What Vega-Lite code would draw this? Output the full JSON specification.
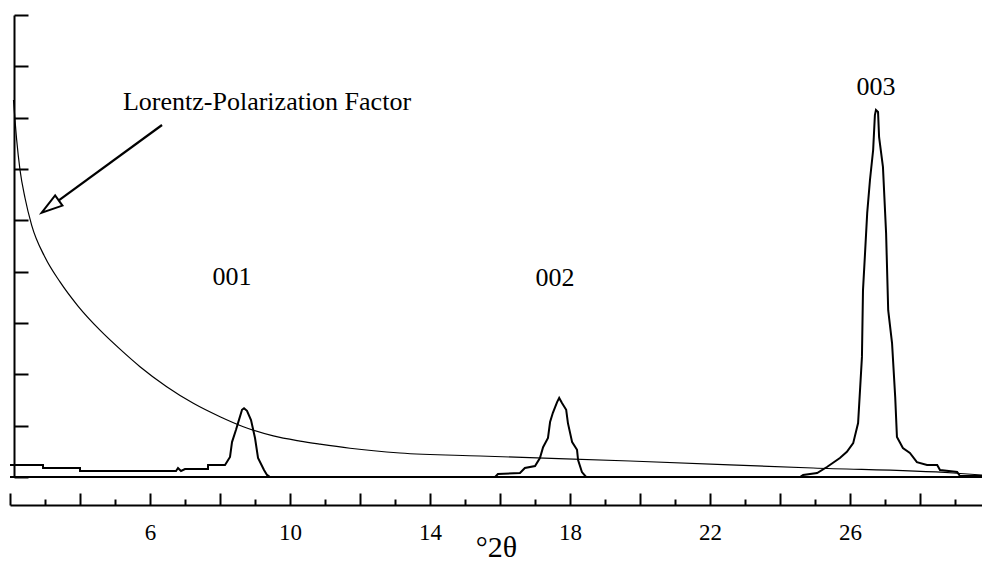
{
  "$schema": "https://vega.github.io/schema/vega-lite/v6.json",
  "width": 972,
  "height": 462,
  "autosize": "none",
  "padding": {"left": 10, "top": 15, "right": 0, "bottom": 86},
  "background": "white",
  "config": {"view": {"stroke": null}, "font": "Liberation Serif"},
  "datasets": {
    "pattern": [
      {"tt": 2.0, "intensity": 0.234},
      {"tt": 2.943, "intensity": 0.234},
      {"tt": 2.944, "intensity": 0.175},
      {"tt": 4.0, "intensity": 0.175},
      {"tt": 4.001, "intensity": 0.117},
      {"tt": 6.743, "intensity": 0.117},
      {"tt": 6.8, "intensity": 0.175},
      {"tt": 6.886, "intensity": 0.117},
      {"tt": 7.0, "intensity": 0.156},
      {"tt": 7.657, "intensity": 0.156},
      {"tt": 7.658, "intensity": 0.234},
      {"tt": 8.143, "intensity": 0.234},
      {"tt": 8.286, "intensity": 0.39},
      {"tt": 8.343, "intensity": 0.68},
      {"tt": 8.457, "intensity": 0.92},
      {"tt": 8.514, "intensity": 1.05},
      {"tt": 8.629, "intensity": 1.31},
      {"tt": 8.686, "intensity": 1.34},
      {"tt": 8.771, "intensity": 1.29},
      {"tt": 8.886, "intensity": 1.11},
      {"tt": 9.0, "intensity": 0.76},
      {"tt": 9.086, "intensity": 0.37},
      {"tt": 9.257, "intensity": 0.136},
      {"tt": 9.343, "intensity": 0.04},
      {"tt": 9.43, "intensity": 0},
      {"tt": 15.86, "intensity": 0},
      {"tt": 15.94, "intensity": 0.058},
      {"tt": 16.57, "intensity": 0.078},
      {"tt": 16.71, "intensity": 0.175},
      {"tt": 17.0, "intensity": 0.214},
      {"tt": 17.14, "intensity": 0.37},
      {"tt": 17.23, "intensity": 0.58},
      {"tt": 17.37, "intensity": 0.76},
      {"tt": 17.43, "intensity": 1.07},
      {"tt": 17.51, "intensity": 1.25},
      {"tt": 17.63, "intensity": 1.46},
      {"tt": 17.69, "intensity": 1.54},
      {"tt": 17.77, "intensity": 1.44},
      {"tt": 17.89, "intensity": 1.31},
      {"tt": 17.94, "intensity": 1.05},
      {"tt": 18.06, "intensity": 0.68},
      {"tt": 18.2, "intensity": 0.53},
      {"tt": 18.23, "intensity": 0.33},
      {"tt": 18.34, "intensity": 0.097},
      {"tt": 18.46, "intensity": 0},
      {"tt": 24.57, "intensity": 0},
      {"tt": 24.66, "intensity": 0.04},
      {"tt": 25.06, "intensity": 0.078},
      {"tt": 25.34, "intensity": 0.195},
      {"tt": 25.71, "intensity": 0.37},
      {"tt": 25.91, "intensity": 0.49},
      {"tt": 26.09, "intensity": 0.66},
      {"tt": 26.23, "intensity": 1.05},
      {"tt": 26.29, "intensity": 1.75},
      {"tt": 26.34, "intensity": 2.34},
      {"tt": 26.37, "intensity": 3.64},
      {"tt": 26.43, "intensity": 4.38},
      {"tt": 26.49, "intensity": 5.14},
      {"tt": 26.57, "intensity": 5.79},
      {"tt": 26.66, "intensity": 6.37},
      {"tt": 26.71, "intensity": 7.05},
      {"tt": 26.74, "intensity": 7.15},
      {"tt": 26.8, "intensity": 7.11},
      {"tt": 26.83, "intensity": 6.62},
      {"tt": 26.94, "intensity": 6.04},
      {"tt": 27.03, "intensity": 4.75},
      {"tt": 27.09, "intensity": 3.25},
      {"tt": 27.2, "intensity": 2.61},
      {"tt": 27.29, "intensity": 1.56},
      {"tt": 27.34, "intensity": 0.78},
      {"tt": 27.51, "intensity": 0.565},
      {"tt": 27.71, "intensity": 0.47},
      {"tt": 27.91, "intensity": 0.29},
      {"tt": 28.2, "intensity": 0.234},
      {"tt": 28.49, "intensity": 0.234},
      {"tt": 28.57, "intensity": 0.136},
      {"tt": 29.06, "intensity": 0.097},
      {"tt": 29.14, "intensity": 0.02},
      {"tt": 29.77, "intensity": 0.02}
    ],
    "lp": [
      {"tt": 2.1, "factor": 7.344},
      {"tt": 2.191, "factor": 6.565},
      {"tt": 2.286, "factor": 5.981},
      {"tt": 2.429, "factor": 5.435},
      {"tt": 2.62, "factor": 4.903},
      {"tt": 3.0, "factor": 4.28},
      {"tt": 3.429, "factor": 3.8},
      {"tt": 3.943, "factor": 3.33},
      {"tt": 4.571, "factor": 2.86},
      {"tt": 5.143, "factor": 2.49},
      {"tt": 5.714, "factor": 2.149},
      {"tt": 6.477, "factor": 1.759},
      {"tt": 7.237, "factor": 1.436},
      {"tt": 8.0, "factor": 1.175},
      {"tt": 8.666, "factor": 0.98},
      {"tt": 9.523, "factor": 0.8},
      {"tt": 10.286, "factor": 0.7},
      {"tt": 10.857, "factor": 0.64},
      {"tt": 11.714, "factor": 0.56},
      {"tt": 13.143, "factor": 0.468},
      {"tt": 15.429, "factor": 0.409},
      {"tt": 19.714, "factor": 0.312},
      {"tt": 24.943, "factor": 0.175},
      {"tt": 28.943, "factor": 0.078},
      {"tt": 29.771, "factor": 0.039}
    ],
    "labels": [
      {"tt": 8.343, "y": 3.896, "text": "001"},
      {"tt": 17.571, "y": 3.877, "text": "002"},
      {"tt": 26.743, "y": 7.598, "text": "003"},
      {"tt": 9.343, "y": 7.306, "text": "Lorentz-Polarization Factor"}
    ],
    "arrow": [
      {"tt": 6.343, "y": 6.857},
      {"tt": 3.394, "y": 5.387}
    ],
    "arrowhead": [
      {"tt": 3.15, "y": 5.268}
    ]
  },
  "encoding": {
    "x": {
      "field": "tt",
      "type": "quantitative",
      "scale": {"domain": [2, 29.77], "nice": false, "zero": false},
      "axis": {
        "title": "°2θ",
        "titleFont": "Liberation Serif",
        "titleFontSize": 30,
        "titleFontWeight": "normal",
        "titleColor": "black",
        "titleBaseline": "alphabetic",
        "titleY": 51,
        "offset": 28,
        "values": [2,3,4,5,6,7,8,9,10,11,12,13,14,15,16,17,18,19,20,21,22,23,24,25,26,27,28,29],
        "labelExpr": "datum.value % 4 == 2 && datum.value > 2 ? datum.label : ''",
        "labelFont": "Liberation Serif",
        "labelFontSize": 23,
        "labelColor": "black",
        "labelPadding": 28,
        "labelFlush": false,
        "labelOverlap": false,
        "tickSize": {"condition": {"test": "datum.value % 2 == 0", "value": -12}, "value": -6},
        "tickWidth": 2,
        "tickColor": "black",
        "domainColor": "black",
        "domainWidth": 2,
        "grid": false
      }
    }
  },
  "layer": [
    {
      "data": {"name": "pattern"},
      "mark": {"type": "rule", "color": "black", "strokeWidth": 2},
      "encoding": {"x": null, "y": {"datum": 0, "type": "quantitative"}}
    },
    {
      "data": {"name": "pattern"},
      "mark": {"type": "line", "color": "black", "strokeWidth": 2},
      "encoding": {
        "y": {
          "field": "intensity",
          "type": "quantitative",
          "scale": {"domain": [0, 9], "nice": false},
          "axis": {
            "title": null,
            "values": [0,1,2,3,4,5,6,7,8,9],
            "labels": false,
            "tickSize": -14,
            "tickWidth": 2,
            "tickColor": "black",
            "domainColor": "black",
            "domainWidth": 2,
            "offset": -4,
            "grid": false
          }
        }
      }
    },
    {
      "data": {"name": "lp"},
      "mark": {"type": "line", "color": "black", "strokeWidth": 1.2, "interpolate": "monotone"},
      "encoding": {"y": {"field": "factor", "type": "quantitative"}}
    },
    {
      "data": {"name": "arrow"},
      "mark": {"type": "line", "color": "black", "strokeWidth": 2.2},
      "encoding": {"y": {"field": "y", "type": "quantitative"}}
    },
    {
      "data": {"name": "arrowhead"},
      "mark": {"type": "point", "shape": "M0,-1L0.6,1L-0.6,1Z", "angle": 234.5, "filled": true, "fill": "white", "stroke": "black", "strokeWidth": 2, "size": 440, "opacity": 1},
      "encoding": {"y": {"field": "y", "type": "quantitative"}}
    },
    {
      "data": {"name": "labels"},
      "mark": {"type": "text", "font": "Liberation Serif", "fontSize": 26, "color": "black", "align": "center", "baseline": "middle"},
      "encoding": {"y": {"field": "y", "type": "quantitative"}, "text": {"field": "text"}}
    }
  ]
}
